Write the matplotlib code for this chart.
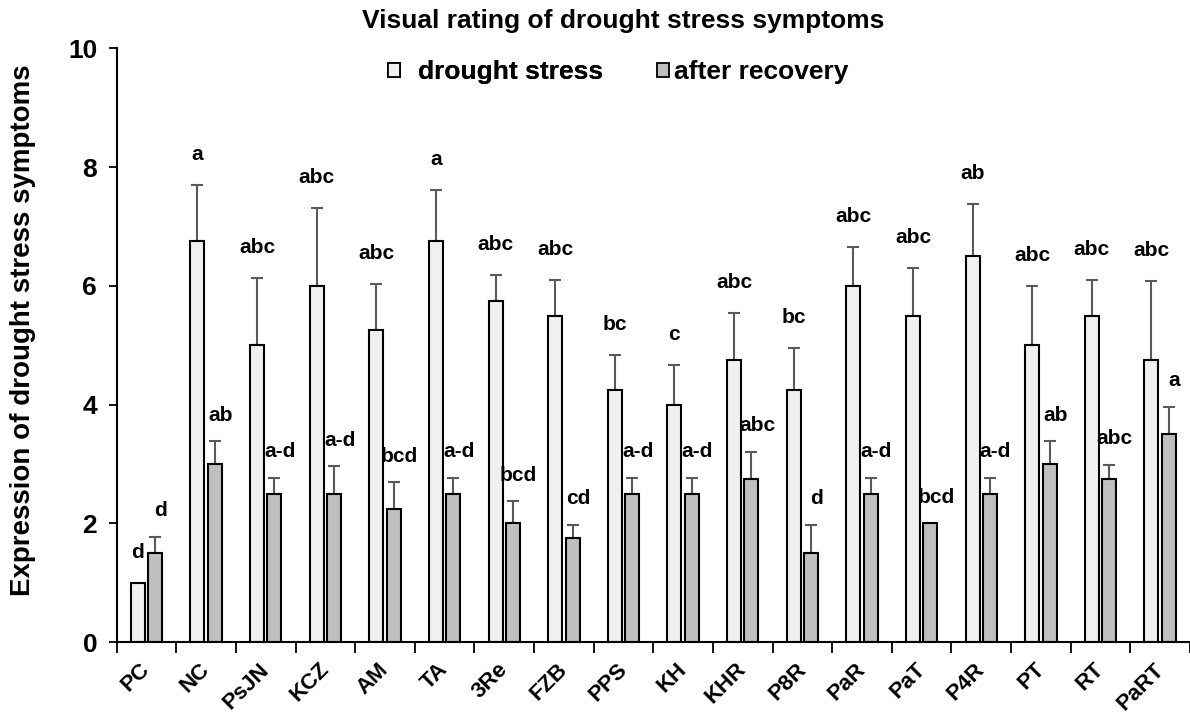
import matplotlib
matplotlib.use('Agg')
import matplotlib.pyplot as plt
import matplotlib.transforms as mtransforms
import numpy as np
from matplotlib.patches import Patch


# data
groups = ['PC', 'NC', 'PsJN', 'KCZ', 'AM', 'TA', '3Re', 'FZB', 'PPS',
          'KH', 'KHR', 'P8R', 'PaR', 'PaT', 'P4R', 'PT', 'RT', 'PaRT']
drought = [1.0, 6.75, 5.0, 6.0, 5.25, 6.75, 5.75, 5.5, 4.25,
           4.0, 4.75, 4.25, 6.0, 5.5, 6.5, 5.0, 5.5, 4.75]
drought_err = [0.0, 0.95, 1.14, 1.31, 0.78, 0.87, 0.44, 0.59, 0.59,
               0.66, 0.79, 0.70, 0.65, 0.80, 0.88, 1.0, 0.60, 1.33]
drought_letters = ['d', 'a', 'abc', 'abc', 'abc', 'a', 'abc', 'abc', 'bc',
                   'c', 'abc', 'bc', 'abc', 'abc', 'ab', 'abc', 'abc', 'abc']
recovery = [1.5, 3.0, 2.5, 2.5, 2.25, 2.5, 2.0, 1.75, 2.5,
            2.5, 2.75, 1.5, 2.5, 2.0, 2.5, 3.0, 2.75, 3.5]
recovery_err = [0.27, 0.38, 0.26, 0.46, 0.44, 0.26, 0.37, 0.23, 0.26,
                0.26, 0.45, 0.47, 0.26, 0.0, 0.26, 0.38, 0.23, 0.46]
recovery_letters = ['d', 'ab', 'a-d', 'a-d', 'bcd', 'a-d', 'bcd', 'cd', 'a-d',
                    'a-d', 'abc', 'd', 'a-d', 'bcd', 'a-d', 'ab', 'abc', 'a']

FONT = 'Liberation Sans'
LIGHT = '#f0f0f0'
DARK = '#bfbfbf'
ERR = '#5a5a5a'


def draw_series(ax, x, values, errors, letters, color, shift, text_off):
    """draw one bar series with plus-only error bars and letters"""
    values = np.array(values)
    errors = np.array(errors)
    ax.bar(x + shift, values, width=0.235, color=color,
           edgecolor='black', linewidth=1.5, zorder=2)
    has_err = errors > 0
    ax.errorbar(x[has_err] + shift, values[has_err],
                yerr=[np.zeros(has_err.sum()), errors[has_err]],
                fmt='none', ecolor=ERR, elinewidth=1.5, capsize=4.3,
                capthick=1.5, zorder=1)
    for xi, v, e, lab in zip(x, values, errors, letters):
        ax.annotate(lab, (xi + shift, v + e), xytext=text_off,
                    textcoords='offset points', ha='center', va='baseline',
                    fontsize=15, fontweight='bold', family=FONT)


def main():
    plt.rcParams['font.family'] = FONT
    fig = plt.figure(figsize=(11.9, 7.2), dpi=100)
    ax = fig.add_axes([0.098, 0.108, 0.902, 0.825])

    x = np.arange(len(groups))
    draw_series(ax, x, drought, drought_err, drought_letters, LIGHT,
                -0.146, (0, 18))
    draw_series(ax, x, recovery, recovery_err, recovery_letters, DARK,
                0.146, (4, 15))

    ax.set_xlim(-0.5, len(groups) - 0.5)
    ax.set_ylim(0, 10)
    ax.set_yticks([0, 2, 4, 6, 8, 10])
    ax.tick_params(axis='y', direction='out', length=6, width=1.3,
                   labelsize=19, pad=8)
    for lab in ax.get_yticklabels():
        lab.set_fontweight('bold')

    ax.set_xticks(x)
    ax.set_xticklabels(groups, rotation=45, ha='right',
                       rotation_mode='anchor', fontsize=16, fontweight='bold')
    ax.tick_params(axis='x', which='major', length=0, pad=12)
    shift = mtransforms.ScaledTranslation(-5 / 72, 0, fig.dpi_scale_trans)
    for lab in ax.get_xticklabels():
        lab.set_transform(lab.get_transform() + shift)
    ax.set_xticks(np.arange(-0.5, len(groups)), minor=True)
    ax.tick_params(axis='x', which='minor', direction='out', length=8,
                   width=1.3)

    for side in ['top', 'right']:
        ax.spines[side].set_visible(False)
    for side in ['left', 'bottom']:
        ax.spines[side].set_linewidth(1.5)

    fig.text(0.524, 0.971, 'Visual rating of drought stress symptoms',
             ha='center', va='center', fontsize=19, fontweight='bold')
    fig.text(0.019, 0.542, 'Expression of drought stress symptoms',
             ha='center', va='center', rotation=90, fontsize=20,
             fontweight='bold')

    # two single entry legends, spaced like the original
    leg_font = {'family': FONT, 'weight': 'bold', 'size': 19}
    leg1 = fig.legend([Patch(facecolor=LIGHT, edgecolor='black', linewidth=1.3)],
                      ['drought stress'], loc='center left',
                      bbox_to_anchor=(0.326, 0.9), frameon=False,
                      borderpad=0, borderaxespad=0, handlelength=0.45,
                      handleheight=0.45, handletextpad=0.7, prop=leg_font)
    fig.add_artist(leg1)
    fig.legend([Patch(facecolor=DARK, edgecolor='black', linewidth=1.3)],
               ['after recovery'], loc='center left',
               bbox_to_anchor=(0.552, 0.9), frameon=False,
               borderpad=0, borderaxespad=0, handlelength=0.45,
               handleheight=0.45, handletextpad=0.2, prop=leg_font)

    fig.savefig('out.png', dpi=100)


if __name__ == "__main__":
    main()
